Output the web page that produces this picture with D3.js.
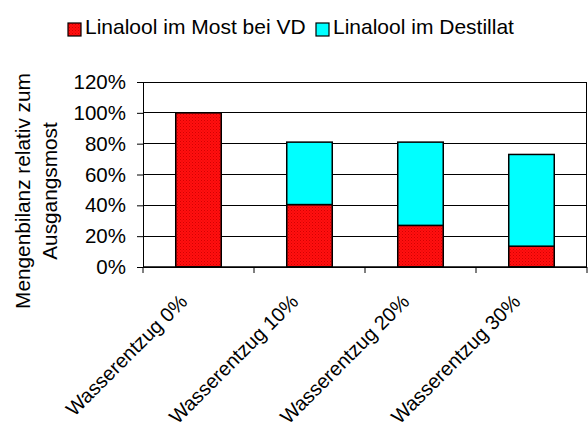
<!DOCTYPE html>
<html><head><meta charset="utf-8">
<script src="https://cdn.jsdelivr.net/npm/d3@7"></script>
<style>body{margin:0;background:#fff}svg{display:block;font-family:Arial,"Liberation Sans",sans-serif}</style>
</head><body><svg id="c" width="588" height="430"></svg>
<script>
const categories = ["Wasserentzug 0%","Wasserentzug 10%","Wasserentzug 20%","Wasserentzug 30%"];
const seriesNames = ["Linalool im Most bei VD","Linalool im Destillat"];
const mostValues = [100, 40.5, 27, 13.5];
const destillatValues = [0, 40.5, 54, 59.5];
const yTicks = [0,20,40,60,80,100,120];
const colors = ["#ff0000","#00ffff"];

const svg = d3.select("#c");
const defs = svg.append("defs");
const pat = defs.append("pattern").attr("id","redpat").attr("patternUnits","userSpaceOnUse").attr("width",3).attr("height",3);
pat.append("rect").attr("width",3).attr("height",3).attr("fill","#ff1010");
pat.append("rect").attr("x",0).attr("y",0).attr("width",1).attr("height",1).attr("fill","#d40000");
pat.append("rect").attr("x",1.5).attr("y",1.5).attr("width",1).attr("height",1).attr("fill","#e80000");

const L=143,R=587,T=82,B=267;
const x = d3.scaleBand().domain(categories).range([L,R]).paddingInner(0.59).paddingOuter(0.295);
const y = d3.scaleLinear().domain([0,120]).range([B,T]);

// gridlines
svg.append("g").selectAll("line").data(yTicks).join("line")
  .attr("x1",L).attr("x2",R).attr("y1",d=>y(d)).attr("y2",d=>y(d))
  .attr("stroke","#000").attr("stroke-width",1).attr("shape-rendering","crispEdges");

// y axis
const ya = svg.append("g").attr("transform",`translate(${L},0)`)
  .call(d3.axisLeft(y).tickValues(yTicks).tickFormat(d=>d+"%").tickSize(6).tickPadding(11));
ya.select(".domain").remove();
ya.selectAll("line").attr("stroke","#000");
ya.selectAll("text").attr("font-size",20.5).attr("fill","#000").attr("font-family","Arial, 'Liberation Sans', sans-serif");
svg.append("line").attr("x1",L).attr("x2",L).attr("y1",T).attr("y2",B).attr("stroke","#000").attr("shape-rendering","crispEdges");

// bars
const stackData = categories.map((c,i)=>({c, most:mostValues[i], dest:destillatValues[i]}));
const g = svg.append("g");
g.selectAll("rect.m").data(stackData).join("rect").attr("class","m")
  .attr("x",d=>x(d.c)).attr("width",x.bandwidth())
  .attr("y",d=>y(d.most)).attr("height",d=>y(0)-y(d.most))
  .attr("fill","url(#redpat)").attr("stroke","#000").attr("stroke-width",1.5);
g.selectAll("rect.d").data(stackData.filter(d=>d.dest>0)).join("rect").attr("class","d")
  .attr("x",d=>x(d.c)).attr("width",x.bandwidth())
  .attr("y",d=>y(d.most+d.dest)).attr("height",d=>y(d.most)-y(d.most+d.dest))
  .attr("fill",colors[1]).attr("stroke","#000").attr("stroke-width",1.5);

// x axis baseline and ticks at band boundaries
svg.append("line").attr("x1",L).attr("x2",R).attr("y1",B).attr("y2",B).attr("stroke","#000").attr("stroke-width",1.5);
const step = x.step();
const bounds = d3.range(categories.length+1).map(i=>L+i*step);
svg.append("g").selectAll("line").data(bounds).join("line")
  .attr("x1",d=>d).attr("x2",d=>d).attr("y1",B).attr("y2",B+6).attr("stroke","#000");
svg.append("line").attr("x1",R-0.5).attr("x2",R-0.5).attr("y1",T).attr("y2",B).attr("stroke","#000");

// x labels
svg.append("g").selectAll("text").data(categories).join("text")
  .attr("transform",d=>`translate(${x(d)+x.bandwidth()/2-10},${B+36}) rotate(-45)`)
  .attr("text-anchor","end").attr("font-size",20).attr("fill","#000").text(d=>d);

// y title
const yt = svg.append("text").attr("transform","translate(30,191) rotate(-90)")
  .attr("text-anchor","middle").attr("font-size",20.8).attr("fill","#000");
yt.append("tspan").attr("x",0).attr("dy",0).text("Mengenbilanz relativ zum");
yt.append("tspan").attr("x",0).attr("dy",27).text("Ausgangsmost");

// legend
const lg = svg.append("g");
const legendX = [68, 316];
seriesNames.forEach((s,i)=>{
  lg.append("rect").attr("x",legendX[i]).attr("y",23).attr("width",13).attr("height",13)
    .attr("fill", i===0?"url(#redpat)":colors[1]).attr("stroke","#000").attr("stroke-width",1.2);
  lg.append("text").attr("x",legendX[i]+17).attr("y",34).attr("font-size",21).attr("fill","#000").text(s);
});
</script></body></html>
